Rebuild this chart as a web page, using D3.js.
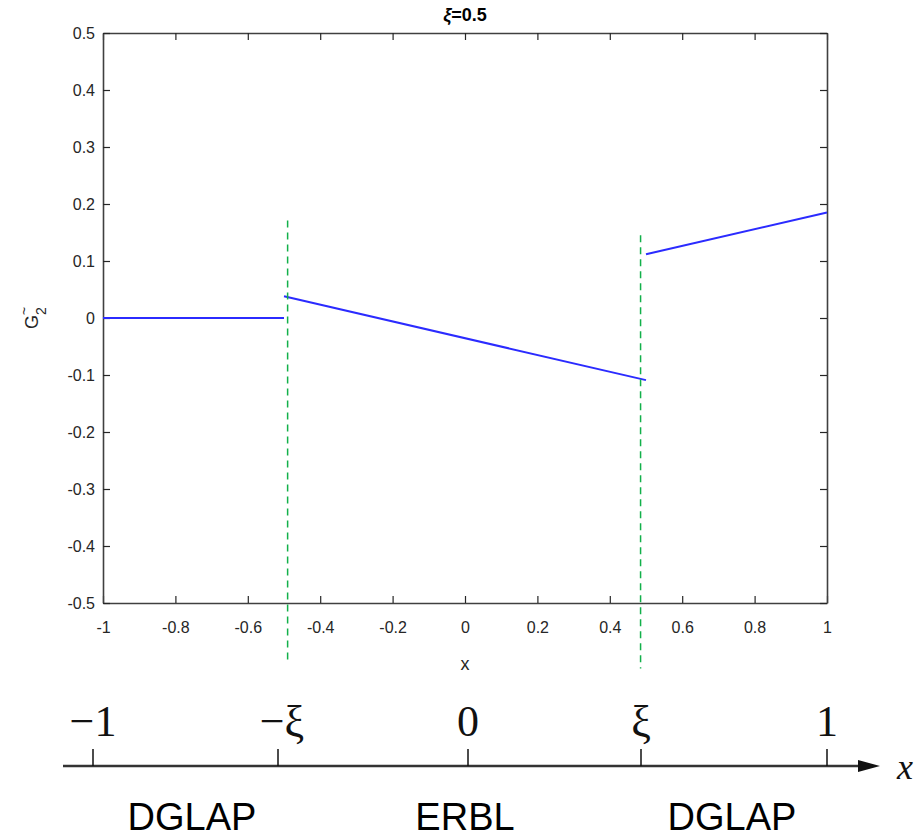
<!DOCTYPE html>
<html>
<head>
<meta charset="utf-8">
<script src="https://cdn.jsdelivr.net/npm/d3@7"></script>
<style>
  body { margin: 0; background: #fff; }
  svg { display: block; }
</style>
</head>
<body>
<div id="chart"></div>
<script>
// GPD G~2 at xi = 0.5, three pieces (DGLAP / ERBL / DGLAP)
const xi = 0.5;
const xTicks = [-1, -0.8, -0.6, -0.4, -0.2, 0, 0.2, 0.4, 0.6, 0.8, 1];
const yTicks = [0.5, 0.4, 0.3, 0.2, 0.1, 0, -0.1, -0.2, -0.3, -0.4, -0.5];

const segLeft  = [{ x: -1, y: 0 }, { x: -0.5, y: 0 }];
const segMid   = [{ x: -0.5, y: 0.038 }, { x: 0.5, y: -0.109 }];
const segRight = [{ x: 0.5, y: 0.112 }, { x: 1, y: 0.185 }];

// dashed markers (x position, top y, bottom y) in data units
const markers = [
  { x: -0.49, y0: 0.171, y1: -0.606 },
  { x: 0.485, y0: 0.145, y1: -0.615 }
];

// lower schematic axis
const schemeTicks = ["\u22121", "\u2212\u03be", "0", "\u03be", "1"];
const schemeRegions = ["DGLAP", "ERBL", "DGLAP"];

const width = 919, height = 840;
const box = { left: 103, right: 827, top: 33, bottom: 603 };
const axisColor = "#262626";

const svg = d3.select("#chart").append("svg")
  .attr("width", width).attr("height", height)
  .style("font-family", "'Liberation Sans', Arial, sans-serif");

const x = d3.scaleLinear().domain([-1, 1]).range([box.left, box.right]);
const y = d3.scaleLinear().domain([-0.5, 0.5]).range([box.bottom, box.top]);

// axes, ticks pointing inward (matlab style)
const fmt = d => String(d);

svg.append("g")
  .attr("transform", `translate(0,${box.bottom})`)
  .call(d3.axisBottom(x).tickValues(xTicks).tickSize(-7).tickPadding(19).tickSizeOuter(0).tickFormat(fmt));
svg.append("g")
  .attr("transform", `translate(0,${box.top})`)
  .call(d3.axisTop(x).tickValues(xTicks).tickSize(-7).tickSizeOuter(0).tickFormat(""));
svg.append("g")
  .attr("transform", `translate(${box.left},0)`)
  .call(d3.axisLeft(y).tickValues(yTicks).tickSize(-7).tickPadding(8).tickSizeOuter(0).tickFormat(fmt));
svg.append("g")
  .attr("transform", `translate(${box.right},0)`)
  .call(d3.axisRight(y).tickValues(yTicks).tickSize(-7).tickSizeOuter(0).tickFormat(""));

svg.selectAll(".domain").attr("stroke", "#404040").attr("stroke-width", 1.6);
svg.selectAll(".tick line").attr("stroke", axisColor).attr("stroke-width", 1.2);
svg.selectAll(".tick text")
  .attr("fill", "#262626")
  .style("font-size", "16px")
  .style("font-family", "'Liberation Sans', Arial, sans-serif");

// title
svg.append("text")
  .attr("x", x(0)).attr("y", 21)
  .attr("text-anchor", "middle")
  .style("font-size", "18px").style("font-weight", "bold")
  .html(`<tspan font-style="italic">\u03be</tspan>=${xi}`);

// x label
svg.append("text")
  .attr("x", x(0)).attr("y", 670)
  .attr("text-anchor", "middle")
  .style("font-size", "18px").attr("fill", axisColor)
  .text("x");

// y label  G~_2
const yl = svg.append("text")
  .attr("transform", `translate(38,${y(0)}) rotate(-90)`)
  .attr("text-anchor", "middle")
  .style("font-size", "18px").attr("fill", axisColor);
yl.append("tspan").text("G");
yl.append("tspan").attr("dy", -9).style("font-size", "14px").text("~");
yl.append("tspan").attr("dx", -8).attr("dy", 17).style("font-size", "14px").text("2");

// data lines
const line = d3.line().x(d => x(d.x)).y(d => y(d.y));
svg.append("g").selectAll("path")
  .data([segLeft, segMid, segRight])
  .join("path")
  .attr("d", line)
  .attr("fill", "none")
  .attr("stroke", "#2b2bff")
  .attr("stroke-width", 2);

// dashed markers
svg.append("g").selectAll("line")
  .data(markers)
  .join("line")
  .attr("x1", d => x(d.x)).attr("x2", d => x(d.x))
  .attr("y1", d => y(d.y0)).attr("y2", d => y(d.y1))
  .attr("stroke", "#12b04a")
  .attr("stroke-width", 1.5)
  .attr("stroke-dasharray", "7,5");

// ---- lower schematic ----
const schemePos = { "\u22121": 93, "\u2212\u03be": 278, "0": 468, "\u03be": 641, "1": 827 };
const axisY = 766;

const scheme = svg.append("g");
scheme.append("line")
  .attr("x1", 63).attr("x2", 862)
  .attr("y1", axisY).attr("y2", axisY)
  .attr("stroke", "#333").attr("stroke-width", 2.5);
scheme.append("path")
  .attr("d", `M858,${axisY - 6} L880,${axisY} L858,${axisY + 6} Z`)
  .attr("fill", "#111");
scheme.append("text")
  .attr("x", 897).attr("y", axisY + 13)
  .style("font-family", "'Liberation Serif', 'DejaVu Serif', serif")
  .style("font-style", "italic")
  .style("font-size", "36px")
  .attr("fill", "#111")
  .text("x");

scheme.selectAll("line.tk")
  .data(schemeTicks)
  .join("line")
  .attr("class", "tk")
  .attr("x1", d => schemePos[d]).attr("x2", d => schemePos[d])
  .attr("y1", axisY - 17).attr("y2", axisY)
  .attr("stroke", "#111").attr("stroke-width", 1.5);

scheme.selectAll("text.tl")
  .data(schemeTicks)
  .join("text")
  .attr("class", "tl")
  .attr("x", d => schemePos[d] + (d === "\u2212\u03be" ? 4 : 0))
  .attr("y", 736)
  .attr("text-anchor", "middle")
  .style("font-family", "'Liberation Serif', 'DejaVu Serif', serif")
  .style("font-size", "44px")
  .attr("fill", "#111")
  .text(d => d);

const regionX = [192, 465, 732];
scheme.selectAll("text.rg")
  .data(schemeRegions)
  .join("text")
  .attr("class", "rg")
  .attr("x", (d, i) => regionX[i])
  .attr("y", 830)
  .attr("text-anchor", "middle")
  .style("font-family", "'Liberation Sans', Arial, sans-serif")
  .style("font-size", "38px")
  .attr("fill", "#000")
  .text(d => d);
</script>
</body>
</html>
